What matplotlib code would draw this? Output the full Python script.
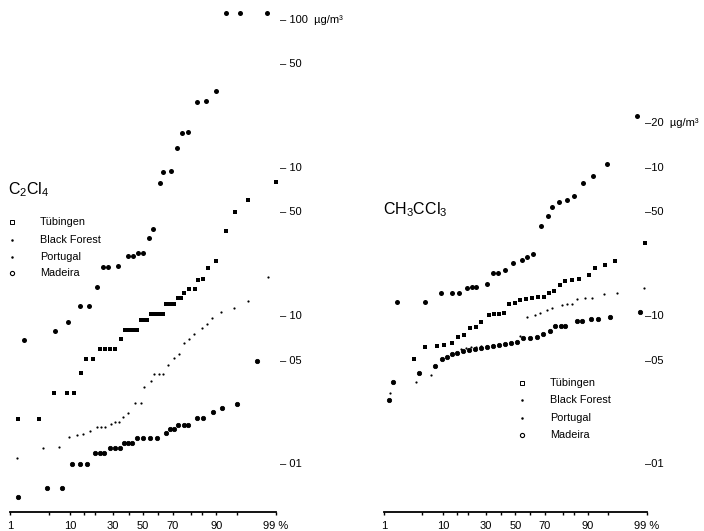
import statistics
import matplotlib
matplotlib.use("Agg")
import matplotlib.pyplot as plt
from matplotlib.ticker import NullLocator, FixedLocator

plt.rcParams['font.family'] = ['Liberation Sans', 'DejaVu Sans']
plt.rcParams['mathtext.default'] = 'regular'

# cumulative frequency (%) and concentration (ug/m3)
# ---- C2Cl4 ----
pce_tub_pct = [1.8, 6.1, 9.4, 13.5, 17.2, 21.0, 24.1, 27.0, 33.0, 39.6, 43.0, 46.5, 50.0,
               54.2, 56.9, 61.7, 63.7, 68.8, 72.5, 75.3, 78.5, 82.8, 86.5, 90.0, 92.7, 95.6, 98.5]
pce_tub_val = [0.069, 0.079, 0.091, 0.117, 0.117, 0.157, 0.214, 0.214, 0.218, 0.254, 0.254, 0.267, 0.267,
               0.336, 0.387, 0.79, 0.94, 0.955, 1.37, 1.72, 1.75, 2.79, 2.84, 3.31, 11.1, 11.1, 11.1]

pce_bf_pct = [1.4, 3.4, 5.9, 9.1, 11.3, 13.8, 15.9, 19.0, 22.5, 25.2, 28.1, 31.2, 35.0, 37.6, 40.3,
              43.0, 45.8, 48.6, 50.7, 52.8, 55.6, 58.3, 61.1, 63.7, 65.7, 68.2, 70.7, 73.0, 74.8,
              76.4, 79.0, 81.9, 83.3, 85.4, 87.3, 90.0, 92.7, 94.7, 96.7, 99.0]
pce_bf_val = [0.020, 0.020, 0.030, 0.030, 0.030, 0.041, 0.051, 0.051, 0.060, 0.060, 0.060, 0.060, 0.070,
              0.080, 0.080, 0.080, 0.080, 0.094, 0.094, 0.094, 0.103, 0.103, 0.103, 0.103, 0.12, 0.12,
              0.12, 0.132, 0.132, 0.143, 0.152, 0.152, 0.175, 0.178, 0.211, 0.235, 0.375, 0.505, 0.608, 0.80]

pce_por_pct = [1.35, 4.0, 7.0, 9.7, 12.3, 14.6, 17.6, 21.0, 23.1, 25.2, 28.7, 31.2, 33.7, 36.3, 39.6,
               44.4, 48.6, 50.7, 55.6, 57.6, 61.1, 63.7, 67.0, 70.7, 73.6, 76.4, 79.0, 81.5, 85.0,
               86.9, 88.7, 91.4, 94.5, 96.7, 98.6]
pce_por_val = [0.011, 0.0128, 0.013, 0.0152, 0.0157, 0.016, 0.0167, 0.0178, 0.0178, 0.0178, 0.0186,
               0.0192, 0.0192, 0.0208, 0.0221, 0.0258, 0.0258, 0.0331, 0.0364, 0.0406, 0.0406, 0.0406,
               0.0467, 0.052, 0.0554, 0.0657, 0.070, 0.0756, 0.083, 0.0883, 0.097, 0.106, 0.113, 0.126, 0.183]

pce_mad_pct = [1.4, 4.6, 7.8, 10.6, 13.5, 16.3, 20.0, 22.5, 24.7, 28.1, 31.2, 34.3, 36.9, 39.6, 42.3,
               45.8, 50.0, 54.9, 59.7, 65.7, 68.2, 70.7, 73.0, 76.4, 78.5, 82.8, 85.4, 89.0, 91.7, 95.0, 97.7]
pce_mad_val = [0.006, 0.0069, 0.0069, 0.010, 0.010, 0.010, 0.0119, 0.0119, 0.0119, 0.0128, 0.0128,
               0.0128, 0.0139, 0.0139, 0.0139, 0.015, 0.015, 0.015, 0.015, 0.0162, 0.0172, 0.0172,
               0.0184, 0.0184, 0.0184, 0.0205, 0.0205, 0.0225, 0.0239, 0.0254, 0.050]

# ---- CH3CCl3 ----
tca_tub_pct = [1.8, 5.5, 9.4, 13.1, 15.9, 19.5, 22.1, 24.2, 30.7, 34.5, 37.8, 42.6, 48.2, 54.6,
               58.1, 62.2, 67.4, 71.7, 74.1, 77.9, 81.9, 85.0, 88.4, 91.5, 94.7, 98.4]
tca_tub_val = [0.124, 0.124, 0.143, 0.143, 0.143, 0.155, 0.157, 0.157, 0.164, 0.195, 0.195, 0.205,
               0.228, 0.239, 0.25, 0.262, 0.406, 0.474, 0.545, 0.589, 0.608, 0.647, 0.792, 0.883, 1.06, 2.25]

tca_bf_pct = [3.6, 5.5, 8.2, 10.3, 13.1, 15.4, 18.1, 21.0, 24.2, 27.1, 31.9, 35.2, 38.5, 41.9, 45.4,
              49.6, 53.2, 57.4, 61.5, 65.5, 69.3, 72.3, 75.2, 78.5, 80.9, 84.1, 86.9, 90.3, 92.0,
              94.3, 96.1, 98.9]
tca_bf_val = [0.051, 0.062, 0.063, 0.064, 0.066, 0.072, 0.074, 0.083, 0.084, 0.091, 0.102, 0.103,
              0.103, 0.105, 0.12, 0.122, 0.128, 0.13, 0.132, 0.134, 0.134, 0.143, 0.148, 0.162,
              0.172, 0.175, 0.178, 0.189, 0.211, 0.221, 0.235, 0.311]

tca_por_pct = [1.3, 3.9, 6.7, 16.7, 19.1, 21.5, 24.2, 27.1, 30.7, 34.5, 38.5, 42.6, 46.1, 53.2, 58.1,
               63.5, 66.8, 71.1, 74.1, 79.5, 81.9, 84.1, 86.2, 89.1, 91.2, 94.1, 96.4, 98.85]
tca_por_val = [0.030, 0.036, 0.040, 0.060, 0.061, 0.062, 0.062, 0.063, 0.063, 0.064, 0.064, 0.065,
               0.066, 0.073, 0.099, 0.102, 0.105, 0.110, 0.113, 0.119, 0.12, 0.12, 0.13, 0.132,
               0.132, 0.141, 0.143, 0.155]

tca_mad_pct = [1.26, 1.5, 4.4, 7.7, 9.7, 11.3, 13.1, 15.0, 17.6, 20.5, 23.7, 27.1, 30.7, 34.5, 38.5,
               42.6, 46.8, 51.1, 55.3, 60.1, 64.8, 68.7, 72.9, 75.8, 79.0, 80.9, 86.2, 88.0, 90.9,
               92.8, 95.3, 98.6]
tca_mad_val = [0.027, 0.036, 0.041, 0.046, 0.051, 0.053, 0.055, 0.056, 0.058, 0.059, 0.060, 0.061,
               0.062, 0.063, 0.064, 0.065, 0.066, 0.067, 0.071, 0.071, 0.072, 0.076, 0.079, 0.086,
               0.086, 0.086, 0.093, 0.093, 0.096, 0.096, 0.099, 0.106]

sites = ['Tübingen', 'Black Forest', 'Portugal', 'Madeira']
prob_ticks = [1, 5, 10, 15, 20, 30, 40, 50, 60, 70, 80, 85, 90, 95, 99]
prob_labels = {1: '1', 10: '10', 30: '30', 50: '50', 70: '70', 90: '90', 99: '99 %'}

nd = statistics.NormalDist()


def z(p):
    return nd.inv_cdf(p / 100.0)


def setup_axis(ax, xlo, xhi):
    ax.set_yscale('log')
    ax.set_xlim(z(xlo), z(xhi))
    ax.set_ylim(0.00474, 12.6)
    ax.yaxis.set_major_locator(NullLocator())
    ax.yaxis.set_minor_locator(NullLocator())
    ax.xaxis.set_major_locator(FixedLocator([z(p) for p in prob_ticks]))
    ax.set_xticklabels([prob_labels.get(p, '') for p in prob_ticks], fontsize=8)
    ax.tick_params(axis='x', direction='out', length=2.5, width=1.0, pad=4)
    for s in ['top', 'left', 'right']:
        ax.spines[s].set_visible(False)
    ax.spines['bottom'].set_linewidth(1.3)
    ax.spines['bottom'].set_bounds(z(1), z(99))
    ax.patch.set_alpha(0)


def draw(ax, pct, val, **kw):
    ax.plot([z(p) for p in pct], val, linestyle='none', color='black',
            markeredgecolor='black', clip_on=False, **kw)


style_tub = dict(marker='o', ms=3.6, mew=0)
style_bf = dict(marker='s', ms=2.4, mew=0)
style_por = dict(marker='o', ms=1.6, mew=0)
style_mad = dict(marker='o', ms=3.1, mew=0.6)

fig = plt.figure(figsize=(7.04, 5.31), dpi=100)
ax1 = fig.add_axes([0.0071, 0.0358, 0.3935, 0.9548])
ax2 = fig.add_axes([0.5369, 0.0358, 0.3864, 0.9548])

setup_axis(ax1, 0.77, 99.26)
setup_axis(ax2, 0.75, 99.14)

# left: C2Cl4
draw(ax1, pce_tub_pct, pce_tub_val, **style_tub)
draw(ax1, pce_bf_pct, pce_bf_val, **style_bf)
draw(ax1, pce_por_pct, pce_por_val, **style_por)
draw(ax1, pce_mad_pct, pce_mad_val, **style_mad)

# right: CH3CCl3
draw(ax2, tca_tub_pct, tca_tub_val, **style_tub)
draw(ax2, tca_bf_pct, tca_bf_val, **style_bf)
draw(ax2, tca_por_pct, tca_por_val, **style_por)
draw(ax2, tca_mad_pct, tca_mad_val, **style_mad)

# concentration scales written beside the plots
left_scale = [(10, '– 100  µg/m³'), (5, '– 50'), (1, '– 10'), (0.5, '– 50'),
              (0.1, '– 10'), (0.05, '– 05'), (0.01, '– 01')]
right_scale = [(2, '–20  µg/m³'), (1, '–10'), (0.5, '–50'), (0.1, '–10'),
               (0.05, '–05'), (0.01, '–01')]
for v, s in left_scale:
    ax1.text(0.993, v, s, transform=ax1.get_yaxis_transform(), fontsize=8,
             ha='left', va='center', clip_on=False)
for v, s in right_scale:
    ax2.text(0.982, v, s, transform=ax2.get_yaxis_transform(), fontsize=8,
             ha='left', va='center', clip_on=False)

# titles
ax1.text(0.011, 0.635, 'C$_2$Cl$_4$', transform=ax1.transAxes, fontsize=11.5, ha='left', va='center')
ax2.text(0.018, 0.596, 'CH$_3$CCl$_3$', transform=ax2.transAxes, fontsize=11.5, ha='left', va='center')

# legends
leg_markers = [dict(marker='s', ms=2.6, mfc='white', mec='black', mew=0.7),
               dict(marker='o', ms=1.8, mfc='black', mec='black', mew=0),
               dict(marker='o', ms=1.8, mfc='black', mec='black', mew=0),
               dict(marker='o', ms=3.0, mfc='white', mec='black', mew=0.8)]
for ax, mx, tx, ys in [(ax1, 0.025, 0.126, [0.572, 0.536, 0.503, 0.471]),
                       (ax2, 0.529, 0.632, [0.254, 0.221, 0.185, 0.152])]:
    for name, mk, y in zip(sites, leg_markers, ys):
        ax.plot([mx], [y], transform=ax.transAxes, linestyle='none', clip_on=False, **mk)
        ax.text(tx, y, name, transform=ax.transAxes, fontsize=7.8, ha='left', va='center')

fig.savefig('out.png', dpi=100, facecolor='white')
